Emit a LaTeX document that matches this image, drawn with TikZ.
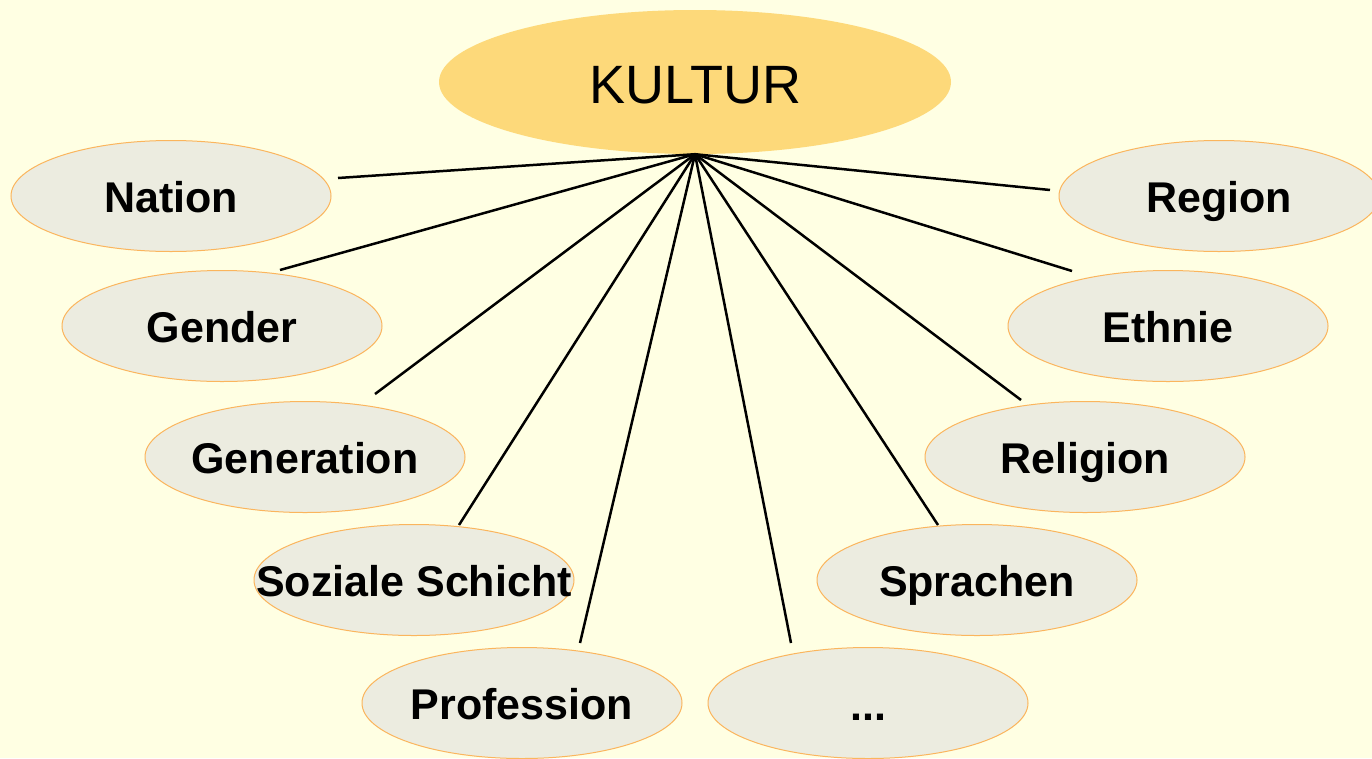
\documentclass[tikz,border=0pt]{standalone}
\usepackage{fontspec}
\setmainfont{Liberation Sans}
\usetikzlibrary{shapes.geometric}
\definecolor{bgcol}{HTML}{FFFFE3}
\definecolor{catfill}{HTML}{ECECE0}
\definecolor{catborder}{HTML}{FBB55D}
\definecolor{kulturfill}{HTML}{FDD97A}
\tikzset{
  catnode/.style={ellipse, draw=catborder, line width=1pt, fill=catfill,
    minimum width=320pt, minimum height=111pt, inner sep=0pt},
  cattext/.style={font=\fontsize{43}{43}\selectfont\bfseries, anchor=base, inner sep=0pt},
  kulturnode/.style={ellipse, fill=kulturfill, draw=none,
    minimum width=512pt, minimum height=144pt, inner sep=0pt},
  kulturtext/.style={font=\fontsize{54}{54}\selectfont, anchor=base, inner sep=0pt},
  spoke/.style={line width=2.5pt, black}
}
\begin{document}
\begin{tikzpicture}[x=1pt,y=-1pt]
\useasboundingbox (0,0) rectangle (1372,758);
\fill[bgcol] (0,0) rectangle (1372,758);

\node[kulturnode] (kultur) at (695,82) {};
\node[kulturtext] (kulturt) at ([yshift=-21pt]kultur.center) {KULTUR};

\node[catnode] (nation) at (171,196) {};
\node[catnode] (gender) at (222,326) {};
\node[catnode] (generation) at (305,457) {};
\node[catnode] (soziale) at (414,580) {};
\node[catnode] (profession) at (522,703) {};
\node[catnode] (dots) at (868,703) {};
\node[catnode] (sprachen) at (977,580) {};
\node[catnode] (religion) at (1085,457) {};
\node[catnode] (ethnie) at (1168,326) {};
\node[catnode] (region) at (1219,196) {};

\node[cattext] (nationt) at ([yshift=-16pt]nation.center) {Nation};
\node[cattext] (gendert) at ([yshift=-16pt]gender.center) {Gender};
\node[cattext] (generationt) at ([yshift=-16pt]generation.center) {Generation};
\node[cattext] (sozialet) at ([yshift=-16pt]soziale.center) {Soziale Schicht};
\node[cattext] (professiont) at ([yshift=-16pt]profession.center) {Profession};
\node[cattext] (dotst) at ([yshift=-17pt]dots.center) {...};
\node[cattext] (sprachent) at ([yshift=-16pt]sprachen.center) {Sprachen};
\node[cattext] (religiont) at ([yshift=-16pt]religion.center) {Religion};
\node[cattext] (ethniet) at ([yshift=-16pt]ethnie.center) {Ethnie};
\node[cattext] (regiont) at ([yshift=-16pt]region.center) {Region};

\coordinate (enation) at (338,178);
\coordinate (egender) at (280,270);
\coordinate (egeneration) at (375,394);
\coordinate (esoziale) at (459,525);
\coordinate (eprofession) at (580,643);
\coordinate (edots) at (791,643);
\coordinate (esprachen) at (938,525);
\coordinate (ereligion) at (1021,400);
\coordinate (eethnie) at (1072,271);
\coordinate (eregion) at (1050,190);

\foreach \e in {enation,egender,egeneration,esoziale,eprofession,edots,esprachen,ereligion,eethnie,eregion}
  \draw[spoke] (kultur.south) -- (\e);
\end{tikzpicture}
\end{document}
